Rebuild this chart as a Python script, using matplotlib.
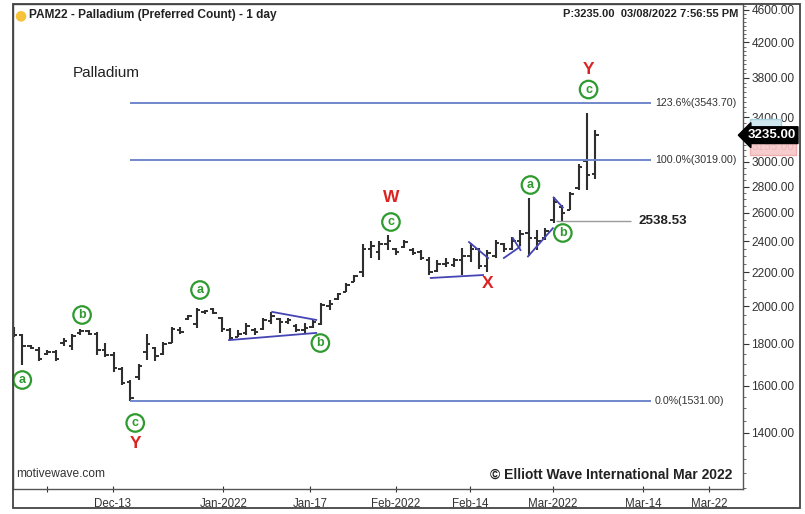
import numpy as np
import matplotlib
matplotlib.use('Agg')
import matplotlib.pyplot as plt
from matplotlib.patches import Rectangle
from matplotlib.ticker import FixedLocator, NullFormatter
import matplotlib.transforms as mtransforms

plt.rcParams['font.family'] = ['Liberation Sans', 'DejaVu Sans']

# --- daily OHLC, PAM22 ---
opens = [1870, 1845, 1790, 1770, 1750, 1760, 1805, 1790, 1855, 1865,
         1850, 1770, 1745, 1675, 1615, 1640, 1760, 1780, 1750, 1805,
         1870, 1930, 1900, 1965, 1985, 1935, 1870, 1835, 1855, 1870,
         1875, 1920, 1930, 1915, 1890, 1870, 1885, 1900, 2000, 2040,
         2080, 2140, 2200, 2350, 2330, 2380, 2350, 2360, 2345, 2330,
         2280, 2210, 2250, 2245, 2280, 2300, 2350, 2240, 2300, 2380,
         2350, 2400, 2460, 2420, 2420, 2545, 2640, 2620, 2790, 3010, 2900]
highs = [1885, 1852, 1795, 1785, 1768, 1768, 1828, 1852, 1875, 1870,
         1860, 1805, 1760, 1685, 1625, 1700, 1852, 1783, 1808, 1885,
         1885, 1950, 1990, 1980, 1990, 1940, 1880, 1870, 1908, 1880,
         1935, 1968, 1935, 1935, 1900, 1910, 1924, 2020, 2035, 2075,
         2135, 2185, 2380, 2400, 2400, 2443, 2355, 2409, 2355, 2342,
         2296, 2277, 2290, 2290, 2355, 2390, 2355, 2342, 2409, 2390,
         2430, 2478, 2711, 2478, 2495, 2715, 2660, 2760, 2983, 3440, 3283]
lows = [1835, 1695, 1772, 1712, 1745, 1712, 1790, 1768, 1845, 1845,
        1745, 1735, 1662, 1602, 1531, 1625, 1719, 1712, 1745, 1803,
        1852, 1924, 1880, 1955, 1955, 1860, 1818, 1834, 1845, 1845,
        1870, 1900, 1855, 1900, 1860, 1855, 1880, 1895, 1979, 2035,
        2080, 2140, 2170, 2290, 2277, 2342, 2310, 2355, 2310, 2277,
        2183, 2202, 2233, 2233, 2183, 2265, 2220, 2200, 2290, 2330,
        2342, 2370, 2300, 2342, 2409, 2530, 2541, 2620, 2773, 2773, 2860]
closes = [1845, 1790, 1780, 1725, 1760, 1725, 1815, 1840, 1865, 1850,
          1770, 1745, 1680, 1610, 1545, 1690, 1800, 1740, 1800, 1875,
          1860, 1945, 1980, 1975, 1962, 1875, 1830, 1850, 1890, 1860,
          1925, 1945, 1915, 1925, 1870, 1880, 1915, 2005, 2015, 2070,
          2125, 2175, 2350, 2370, 2380, 2400, 2330, 2395, 2320, 2290,
          2200, 2250, 2260, 2280, 2300, 2350, 2240, 2320, 2390, 2350,
          2400, 2450, 2420, 2400, 2470, 2680, 2600, 2740, 2960, 2890, 3235]

# date axis (bar-index positions)
date_ticks = [4.0, 11.9, 25.2, 35.7, 46.0, 54.9, 64.9, 75.8, 83.7]
date_labels = ['', 'Dec-13', 'Jan-2022', 'Jan-17', 'Feb-2022', 'Feb-14',
               'Mar-2022', 'Mar-14', 'Mar-22']
price_ticks = [1400, 1600, 1800, 2000, 2200, 2400, 2600, 2800, 3000, 3400,
               3800, 4200, 4600]

# fibonacci levels
fib_levels = [3543.70, 3019.00, 1531.00]
fib_labels = ['123.6%(3543.70)', '100.0%(3019.00)', '0.0%(1531.00)']
fib_start, fib_end = 14.0, 76.7

# wave labels: (text, bar index, price, kind)
wave_labels = [('a', 1.0, 1625, 'circle'), ('b', 8.2, 1951, 'circle'),
               ('c', 14.6, 1440, 'circle'), ('Y', 14.6, 1361, 'red'),
               ('a', 22.4, 2093, 'circle'), ('b', 36.9, 1803, 'circle'),
               ('c', 45.4, 2534, 'circle'), ('W', 45.4, 2711, 'red'),
               ('X', 57.1, 2129, 'red'), ('a', 62.2, 2812, 'circle'),
               ('b', 66.1, 2457, 'circle'), ('c', 69.2, 3678, 'circle'),
               ('Y', 69.2, 3886, 'red')]

# blue trend lines drawn on the chart: [(i0, p0), (i1, p1)]
wave_lines = [[(25.9, 1818), (36.4, 1855)],
              [(31.1, 1968), (36.4, 1924)],
              [(50.2, 2165), (56.5, 2183)],
              [(54.8, 2395), (57.1, 2290)],
              [(59.0, 2290), (60.9, 2362)],
              [(60.1, 2420), (61.0, 2342)],
              [(61.9, 2300), (64.9, 2490)],
              [(65.0, 2715), (66.1, 2640)]]

level_b = 2538.53
level_b_span = (65.3, 74.3)
last_price = 3235.00

W, H = 805, 514
fig = plt.figure(figsize=(W / 100, H / 100), dpi=100)
ax = fig.add_axes([13 / W, 25 / H, 730 / W, 485 / H])

x = np.arange(len(opens))
bar_col = '#2e2e2e'
ax.vlines(x, lows, highs, color=bar_col, lw=1.5)
ax.hlines(opens, x - 0.42, x, color=bar_col, lw=1.4)
ax.hlines(closes, x, x + 0.42, color=bar_col, lw=1.4)

fib_col = '#7087cc'
for lvl, lab in zip(fib_levels, fib_labels):
    ax.hlines(lvl, fib_start, fib_end, color=fib_col, lw=1.4)
    ax.text(fib_end + 0.5, lvl, lab, fontsize=7.7, color='#333333',
            va='center', ha='left')

for seg in wave_lines:
    xs, ys = zip(*seg)
    ax.plot(xs, ys, color='#4545b5', lw=1.3)

ax.hlines(level_b, level_b_span[0], level_b_span[1], color='#9a9a9a', lw=1.0)
ax.text(level_b_span[1] + 0.9, level_b, f'{level_b:.2f}', fontsize=9.6,
        fontweight='bold', va='center', ha='left', color='#222222')

for txt, xi, p, kind in wave_labels:
    if kind == 'circle':
        ax.text(xi, p, txt, fontsize=9, fontweight='bold', color='#2f9a2f',
                ha='center', va='center',
                bbox=dict(boxstyle='circle,pad=0.22', fc='white',
                          ec='#2f9a2f', lw=1.6))
    else:
        ax.text(xi, p, txt, fontsize=12.5, fontweight='bold', color='#dd2222',
                ha='center', va='center')

ax.set_yscale('log')
ax.set_ylim(1196, 4678)
ax.set_xlim(-0.12, 87.8)

ax.yaxis.tick_right()
ax.yaxis.set_major_locator(FixedLocator(price_ticks))
ax.set_yticklabels([f'{v:.2f}' for v in price_ticks])
ax.yaxis.set_minor_locator(FixedLocator(np.arange(1200, 4700, 50)))
ax.yaxis.set_minor_formatter(NullFormatter())
ax.tick_params(axis='y', which='major', direction='out', length=4,
               labelsize=8.6, colors='#333333', pad=2)
ax.tick_params(axis='y', which='minor', direction='out', length=2,
               color='#555555')

ax.set_xticks(date_ticks)
ax.set_xticklabels(date_labels)
ax.tick_params(axis='x', direction='inout', length=5, labelsize=8.3,
               colors='#333333', pad=4)

for s in ax.spines.values():
    s.set_color('#555555')
    s.set_linewidth(1.0)

# price tag on the right axis
tr = mtransforms.blended_transform_factory(ax.transAxes, ax.transData)
ax.text(1.012, 3320, '          ', transform=tr, fontsize=7, va='center',
        bbox=dict(boxstyle='square,pad=0.15', fc='#cfe7ef', ec='#a9cfdc'),
        clip_on=False)
ax.text(1.012, 3130, '3155.00', transform=tr, fontsize=8.5, va='center',
        color='#f0b8b8',
        bbox=dict(boxstyle='square,pad=0.15', fc='#f6cccc', ec='#f0b0b0'),
        clip_on=False)
ax.text(1.006, last_price, f'{last_price:.2f}', transform=tr, fontsize=9.5,
        color='white', va='center', fontweight='bold',
        bbox=dict(boxstyle='larrow,pad=0.18', fc='black', ec='black'),
        clip_on=False)

# header / footer texts
fig.text(20 / W, 1 - 15 / H, '●', fontsize=10, color='#f5c23a',
         ha='center', va='center', family='DejaVu Sans')
fig.text(29 / W, 1 - 15 / H, 'PAM22 - Palladium (Preferred Count) - 1 day',
         fontsize=8.6, fontweight='bold', va='center', color='#222222')
fig.text(738 / W, 1 - 14 / H, 'P:3235.00  03/08/2022 7:56:55 PM',
         fontsize=8.0, fontweight='bold', va='center', ha='right', color='#222222')
ax.text(0.082, 0.858, 'Palladium', transform=ax.transAxes, fontsize=11,
        va='center', color='#222222')
ax.text(0.005, 0.018, 'motivewave.com', transform=ax.transAxes, fontsize=8.6,
        va='bottom', color='#333333')
ax.text(0.985, 0.015, '© Elliott Wave International Mar 2022',
        transform=ax.transAxes, fontsize=10, fontweight='bold', ha='right',
        va='bottom', color='#222222')

# outer frame
fig.patches.append(Rectangle((13 / W, 6 / H), 787 / W, 504 / H,
                             transform=fig.transFigure, fill=False,
                             ec='#444444', lw=1.3))

fig.savefig('out.png', dpi=100, facecolor='white')
